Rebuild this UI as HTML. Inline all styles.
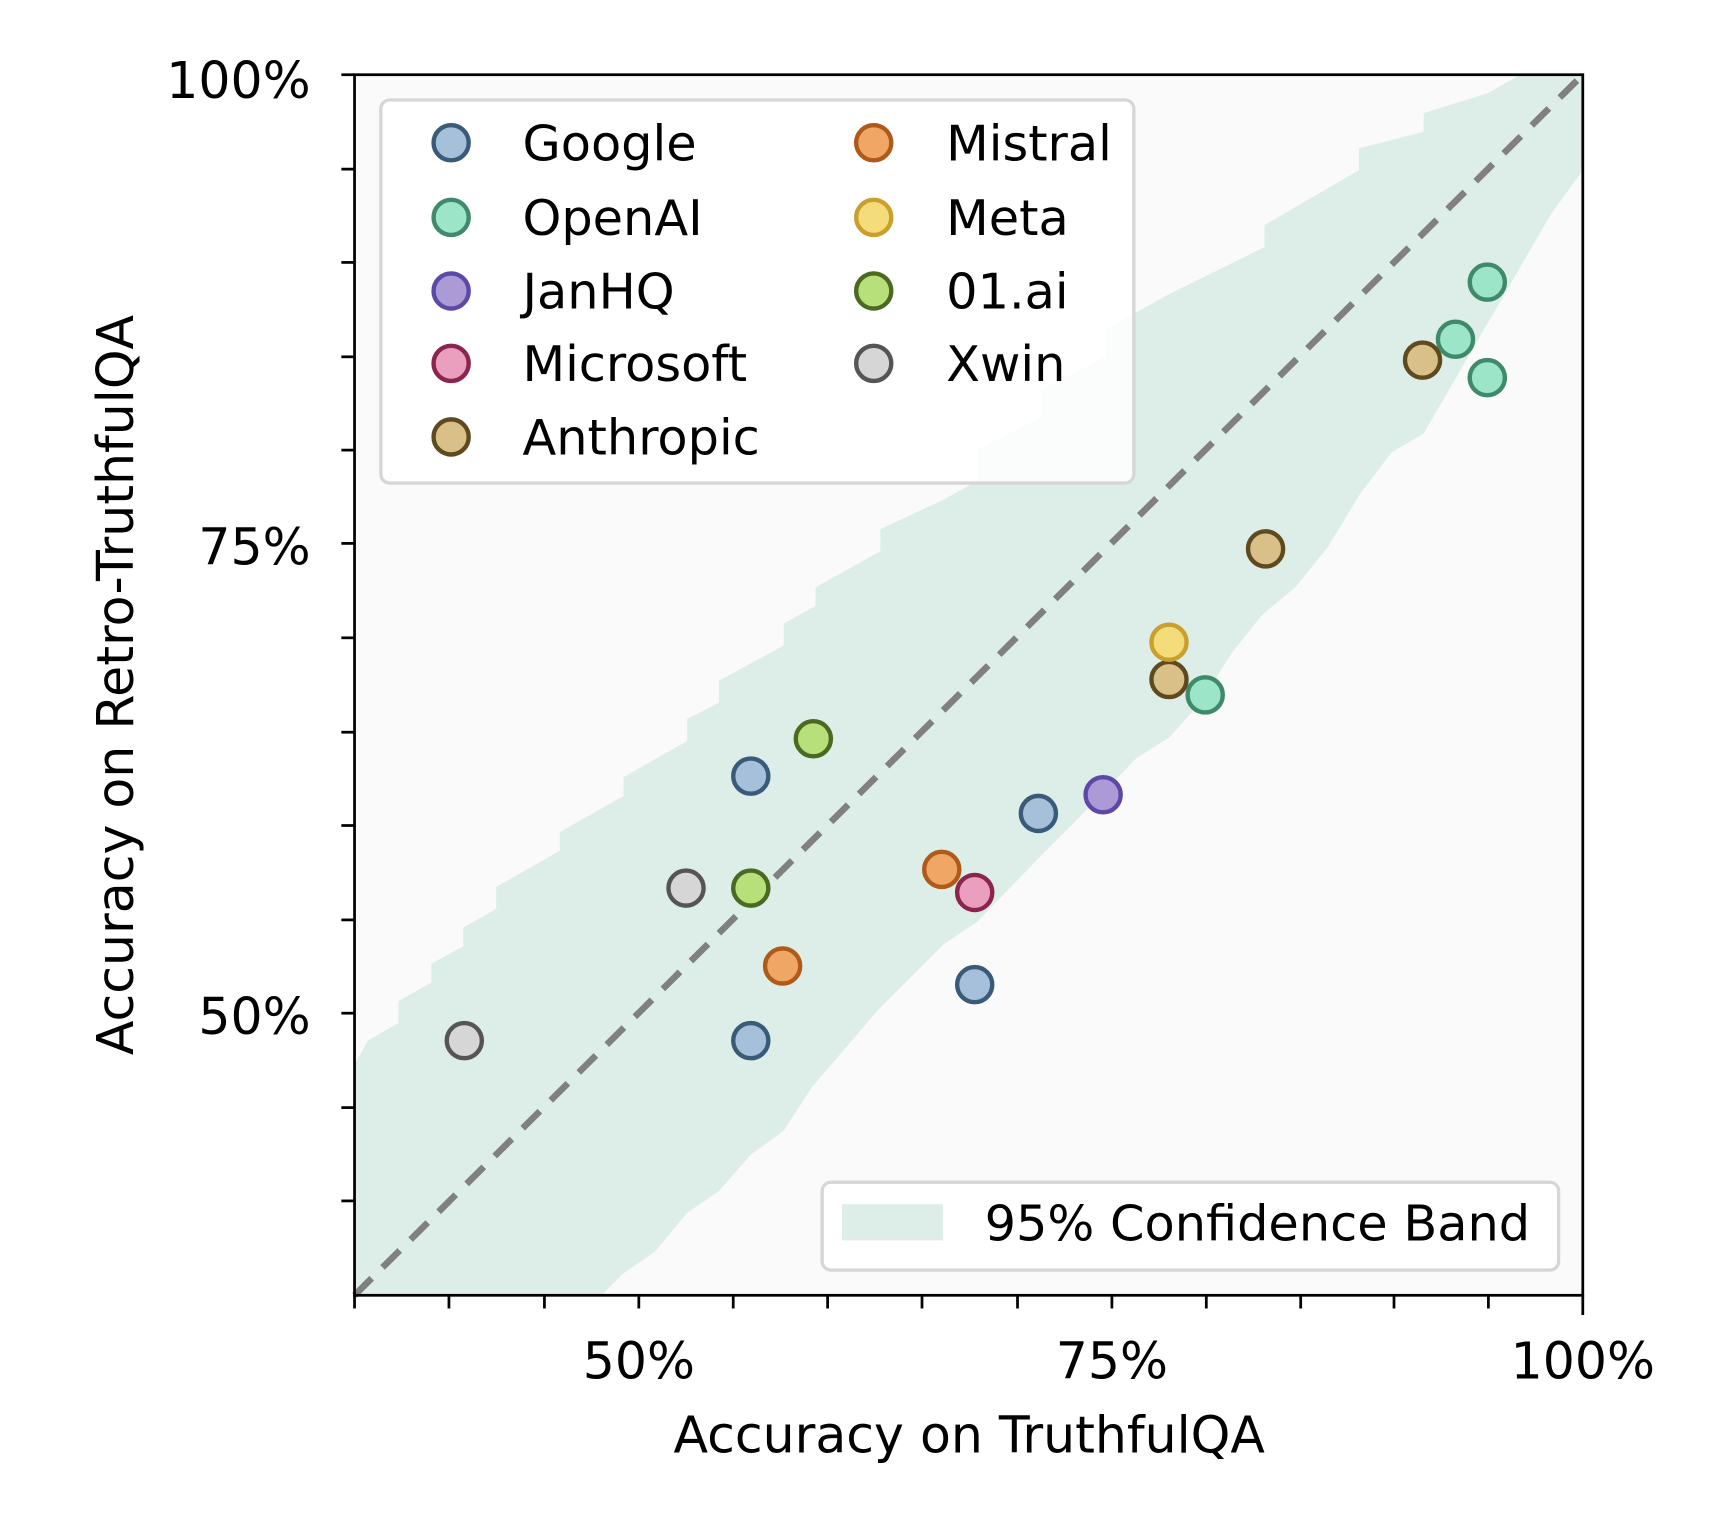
<!DOCTYPE html>
<html><head><meta charset="utf-8"><style>html,body{margin:0;padding:0;background:#fff}svg{display:block}text{font-family:"DejaVu Sans","Liberation Sans",sans-serif;fill:#000}</style></head>
<body>
<svg width="1720" height="1516" viewBox="0 0 1567 1381" xmlns="http://www.w3.org/2000/svg">
<rect x="323" y="68" width="1119" height="1112" fill="#fafafa"/>
<polygon fill="#ddeee9" points="323,970 335,948 363,932 363,912 393,895 393,878 422,862 422,845 452,828 452,808 510,775 510,758 568,725 568,708 626,675 626,655 655,640 655,620 714,588 714,568 743,552 743,535 802,502 802,482 860,455 890,438 890,410 948,380 948,355 1007,325 1007,300 1065,268 1152,225 1152,205 1238,155 1238,135 1297,120 1297,103 1355,85 1385,68 1442,68 1442,155 1413,195 1384,245 1355,295 1326,345 1297,395 1268,412 1239,450 1210,498 1180,535 1150,560 1122,595 1094,640 1065,672 1036,690 1007,720 978,750 948,780 919,810 890,840 860,860 830,890 800,920 770,955 740,990 714,1030 684,1052 655,1085 626,1105 597,1140 568,1160 548,1180 323,1180"/>
<line x1="323" y1="1180" x2="1442" y2="68" stroke="#808080" stroke-width="6" stroke-dasharray="22,14"/>
<g stroke-width="4">
<g fill="#a6c0da" stroke="#3a5a7a"><circle cx="684" cy="707" r="16"/><circle cx="946" cy="741" r="16"/><circle cx="888" cy="897" r="16"/><circle cx="684" cy="948" r="16"/></g>
<g fill="#9de5c9" stroke="#3e8a6a"><circle cx="1355" cy="257" r="16"/><circle cx="1326" cy="309" r="16"/><circle cx="1355" cy="344" r="16"/><circle cx="1098" cy="633" r="16"/></g>
<g fill="#ab9ad6" stroke="#5d48a8"><circle cx="1005" cy="724" r="16"/></g>
<g fill="#ea9fbf" stroke="#8c2450"><circle cx="888" cy="813" r="16"/></g>
<g fill="#d8c088" stroke="#5e4a1e"><circle cx="1296" cy="328" r="16"/><circle cx="1153" cy="500" r="16"/><circle cx="1065" cy="619" r="16"/></g>
<g fill="#f0a766" stroke="#b05a1a"><circle cx="858" cy="792" r="16"/><circle cx="713" cy="880" r="16"/></g>
<g fill="#f5dc7a" stroke="#c9a02c"><circle cx="1065" cy="585" r="16"/></g>
<g fill="#b8e07a" stroke="#4a6a22"><circle cx="741" cy="673" r="16"/><circle cx="684" cy="809" r="16"/></g>
<g fill="#d6d6d6" stroke="#555"><circle cx="625" cy="809" r="16"/><circle cx="423" cy="948" r="16"/></g>
</g>
<rect x="347" y="91" width="686" height="349" rx="8" fill="#fff" fill-opacity="0.85" stroke="#d6d6d6" stroke-width="3"/>
<g stroke-width="4">
<circle cx="411" cy="130" r="16" fill="#a6c0da" stroke="#3a5a7a"/>
<circle cx="411" cy="198" r="16" fill="#9de5c9" stroke="#3e8a6a"/>
<circle cx="411" cy="265" r="16" fill="#ab9ad6" stroke="#5d48a8"/>
<circle cx="411" cy="331" r="16" fill="#ea9fbf" stroke="#8c2450"/>
<circle cx="411" cy="398" r="16" fill="#d8c088" stroke="#5e4a1e"/>
<circle cx="796" cy="130" r="16" fill="#f0a766" stroke="#b05a1a"/>
<circle cx="796" cy="198" r="16" fill="#f5dc7a" stroke="#c9a02c"/>
<circle cx="796" cy="265" r="16" fill="#b8e07a" stroke="#4a6a22"/>
<circle cx="796" cy="331" r="16" fill="#d6d6d6" stroke="#555"/>
</g>
<g font-size="45">
<text x="476" y="146">Google</text><text x="476" y="214">OpenAI</text><text x="476" y="281">JanHQ</text><text x="476" y="347">Microsoft</text><text x="476" y="414">Anthropic</text>
<text x="862" y="146">Mistral</text><text x="862" y="214">Meta</text><text x="862" y="281">01.ai</text><text x="862" y="347">Xwin</text>
</g>
<rect x="749" y="1077" width="671" height="80" rx="8" fill="#fff" fill-opacity="0.85" stroke="#d6d6d6" stroke-width="3"/>
<rect x="767" y="1097" width="92" height="33" fill="#ddeee9"/>
<text x="897" y="1130" font-size="45">95% Confidence Band</text>
<rect x="323" y="68" width="1119" height="1112" fill="none" stroke="#000" stroke-width="2.5"/>
<g stroke="#000" stroke-width="2.5">
<line x1="323" y1="1180" x2="323" y2="1192"/><line x1="409" y1="1180" x2="409" y2="1192"/><line x1="496" y1="1180" x2="496" y2="1192"/><line x1="582" y1="1180" x2="582" y2="1192"/><line x1="668" y1="1180" x2="668" y2="1192"/><line x1="754" y1="1180" x2="754" y2="1192"/><line x1="840" y1="1180" x2="840" y2="1192"/><line x1="927" y1="1180" x2="927" y2="1192"/><line x1="1013" y1="1180" x2="1013" y2="1192"/><line x1="1099" y1="1180" x2="1099" y2="1192"/><line x1="1185" y1="1180" x2="1185" y2="1192"/><line x1="1270" y1="1180" x2="1270" y2="1192"/><line x1="1356" y1="1180" x2="1356" y2="1192"/><line x1="1442" y1="1180" x2="1442" y2="1198"/>
<line x1="311" y1="68" x2="323" y2="68"/><line x1="311" y1="154" x2="323" y2="154"/><line x1="311" y1="239" x2="323" y2="239"/><line x1="311" y1="325" x2="323" y2="325"/><line x1="311" y1="410" x2="323" y2="410"/><line x1="311" y1="495" x2="323" y2="495"/><line x1="311" y1="581" x2="323" y2="581"/><line x1="311" y1="667" x2="323" y2="667"/><line x1="311" y1="752" x2="323" y2="752"/><line x1="311" y1="838" x2="323" y2="838"/><line x1="311" y1="923" x2="323" y2="923"/><line x1="311" y1="1009" x2="323" y2="1009"/><line x1="311" y1="1094" x2="323" y2="1094"/>
</g>
<g font-size="46" text-anchor="end">
<text x="283" y="89">100%</text><text x="283" y="514">75%</text><text x="283" y="942">50%</text>
</g>
<g font-size="46" text-anchor="middle">
<text x="582" y="1256">50%</text><text x="1013" y="1256">75%</text><text x="1442" y="1256">100%</text>
</g>
<text x="883" y="1323" font-size="46" text-anchor="middle">Accuracy on TruthfulQA</text>
<text transform="translate(121,624) rotate(-90)" font-size="46" text-anchor="middle">Accuracy on Retro-TruthfulQA</text>
</svg>
</body></html>
